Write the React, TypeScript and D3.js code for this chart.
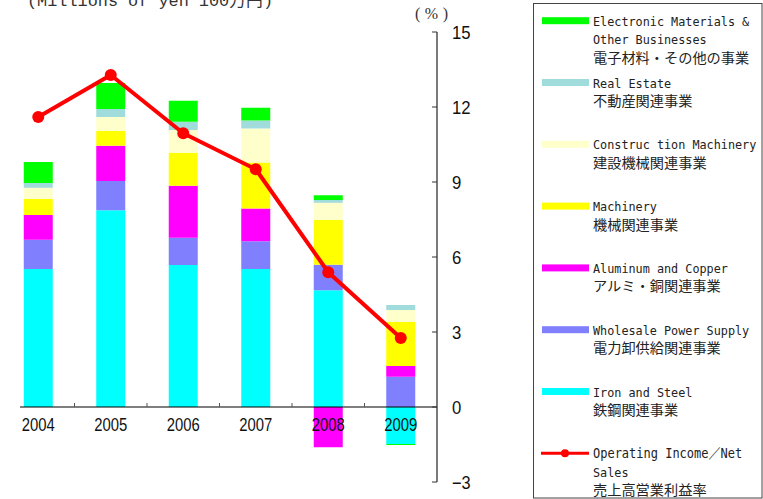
import React from 'react';
import * as d3 from 'd3';

// ---- Data ----
const years = ['2004', '2005', '2006', '2007', '2008', '2009'];
// Segment values (left-axis units, hidden axis)
const ironSteel = [5.52, 7.87, 5.68, 5.52, 4.67, -1.48];
const wholesalePower = [1.17, 1.17, 1.09, 1.11, 1.02, 1.21];
const aluminumCopper = [0.99, 1.41, 2.08, 1.31, -1.61, 0.43];
const machinery = [0.64, 0.59, 1.32, 1.84, 1.79, 1.77];
const constructionMachinery = [0.45, 0.56, 0.91, 1.36, 0.69, 0.47];
const realEstate = [0.19, 0.32, 0.33, 0.32, 0.11, 0.2];
const electronicOther = [0.84, 1.04, 0.84, 0.51, 0.19, -0.04];
// Operating income / net sales (%)
const operatingMargin = [11.6, 13.28, 10.95, 9.51, 5.39, 2.76];
const rightTicks = [15, 12, 9, 6, 3, 0, -3];

const seriesKeys = ['iron', 'wholesale', 'aluminum', 'machinery', 'construction', 'realestate', 'electronic'];
const seriesValues: Record<string, number[]> = {
  iron: ironSteel,
  wholesale: wholesalePower,
  aluminum: aluminumCopper,
  machinery: machinery,
  construction: constructionMachinery,
  realestate: realEstate,
  electronic: electronicOther,
};
const seriesColors: Record<string, string> = {
  iron: '#00FFFF',
  wholesale: '#8080FF',
  aluminum: '#FF00FF',
  machinery: '#FFFF00',
  construction: '#FFFFCC',
  realestate: '#A0DCDC',
  electronic: '#00FF00',
};

const legendItems = [
  { key: 'electronic', lines: ['Electronic Materials &', 'Other Businesses', '電子材料・その他の事業'] },
  { key: 'realestate', lines: ['Real Estate', '不動産関連事業'] },
  { key: 'construction', lines: ['Construc tion Machinery', '建設機械関連事業'] },
  { key: 'machinery', lines: ['Machinery', '機械関連事業'] },
  { key: 'aluminum', lines: ['Aluminum and Copper', 'アルミ・銅関連事業'] },
  { key: 'wholesale', lines: ['Wholesale Power Supply', '電力卸供給関連事業'] },
  { key: 'iron', lines: ['Iron and Steel', '鉄鋼関連事業'] },
  { key: 'line', lines: ['Operating Income／Net', 'Sales', '売上高営業利益率'] },
];

const W = 763;
const H = 499;

function halfWidthCount(s: string) {
  let n = 0;
  for (const ch of s) n += ch.charCodeAt(0) < 128 ? 1 : 2;
  return n;
}
function isAscii(s: string) {
  for (const ch of s) if (ch.charCodeAt(0) >= 128) return false;
  return true;
}

export default function App() {
  const x = d3.scaleBand<string>().domain(years).range([2, 437]).paddingInner(0.6).paddingOuter(0.3);
  const yR = d3.scaleLinear().domain([-3, 15]).range([482, 32]);
  const yL = d3.scaleLinear().domain([-3, 15]).range([482, 32]);

  const table = years.map((yr, i) => {
    const row: any = { year: yr };
    seriesKeys.forEach((k) => (row[k] = seriesValues[k][i]));
    return row;
  });
  const stacked = d3.stack<any>().keys(seriesKeys).offset(d3.stackOffsetDiverging)(table);

  const line = d3
    .line<number>()
    .x((_, i) => (x(years[i]) as number) + x.bandwidth() / 2)
    .y((d) => yR(d));

  const step = x.step();
  const boundaries = years.slice(1).map((yr) => (x(yr) as number) - (step - x.bandwidth()) / 2);

  const monoFont = "'DejaVu Sans Mono', 'Noto Sans CJK JP', monospace";
  const numFont = "'Liberation Sans Narrow', 'Liberation Sans', Arial, sans-serif";

  return (
    <div style={{ position: 'absolute', left: 0, top: 0 }}>
      <svg width={W} height={H} style={{ display: 'block', background: '#fff' }}>
        {/* top-left unit label (cut off at the top edge, as in the reference) */}
        <text
          x={27}
          y={6}
          fontFamily="'Liberation Mono', 'Noto Sans CJK JP', monospace"
          fontSize={16}
          fill="#333"
          textLength={246}
          lengthAdjust="spacingAndGlyphs"
        >
          (Millions of yen  100万円)
        </text>

        {/* bars */}
        {stacked.map((s) => (
          <g key={s.key} fill={seriesColors[s.key]}>
            {s.map((d, i) => {
              const y0 = yL(d[0]);
              const y1 = yL(d[1]);
              const top = Math.min(y0, y1);
              const h = Math.abs(y0 - y1);
              if (h <= 0) return null;
              return <rect key={i} x={x(years[i])} y={top} width={x.bandwidth()} height={h} />;
            })}
          </g>
        ))}

        {/* x baseline */}
        <line x1={20} x2={437} y1={yL(0)} y2={yL(0)} stroke="#000" strokeWidth={1.2} />
        {boundaries.map((bx, i) => (
          <line key={i} x1={bx} x2={bx} y1={yL(0)} y2={yL(0) - 4} stroke="#555" strokeWidth={1} />
        ))}
        {years.map((yr) => (
          <text
            key={yr}
            x={(x(yr) as number) + x.bandwidth() / 2 - 16.5}
            y={431}
            fontFamily={numFont}
            fontSize={18}
            fill="#111"
            textLength={33}
            lengthAdjust="spacingAndGlyphs"
          >
            {yr}
          </text>
        ))}

        {/* right axis */}
        <line x1={437} x2={437} y1={yR(15)} y2={yR(-3)} stroke="#333" strokeWidth={1.3} />
        {rightTicks.map((t) => (
          <g key={t}>
            <line x1={432} x2={437} y1={yR(t)} y2={yR(t)} stroke="#333" strokeWidth={1} />
            <text
              x={452}
              y={yR(t) + 6.5}
              fontFamily={numFont}
              fontSize={18}
              fill="#111"
              textLength={String(t).length * 9.3}
              lengthAdjust="spacingAndGlyphs"
            >
              {t < 0 ? '−' + Math.abs(t) : t}
            </text>
          </g>
        ))}
        <text
          x={415}
          y={19}
          fontFamily="'Liberation Serif', 'DejaVu Serif', serif"
          fontSize={16}
          fill="#333"
          textLength={33}
          lengthAdjust="spacing"
        >
          (%)
        </text>

        {/* operating margin line */}
        <path d={line(operatingMargin) || ''} fill="none" stroke="#FF0000" strokeWidth={4} strokeLinejoin="round" />
        {operatingMargin.map((v, i) => (
          <circle key={i} cx={(x(years[i]) as number) + x.bandwidth() / 2} cy={yR(v)} r={6} fill="#FF0000" />
        ))}

        {/* legend */}
        <rect x={533.5} y={3.5} width={228.5} height={494.5} fill="#fff" stroke="#444" strokeWidth={1} />
        {legendItems.map((item, i) => {
          const cy = 20.7 + i * 61.8;
          return (
            <g key={item.key}>
              {item.key === 'line' ? (
                <g>
                  <line x1={541} x2={589} y1={cy} y2={cy} stroke="#FF0000" strokeWidth={3} />
                  <circle cx={565} cy={cy} r={4} fill="#FF0000" />
                </g>
              ) : (
                <rect x={542} y={cy - 3.5} width={47} height={7} fill={seriesColors[item.key]} />
              )}
              {item.lines.map((ln, j) => (
                <text
                  key={j}
                  x={593}
                  y={cy + 5 + j * 18.5}
                  fontFamily={monoFont}
                  fontSize={isAscii(ln) ? 12.2 : 13.6}
                  fill="#222"
                  textLength={halfWidthCount(ln) * 7.1}
                  lengthAdjust="spacingAndGlyphs"
                  style={{ whiteSpace: 'pre' }}
                >
                  {ln}
                </text>
              ))}
            </g>
          );
        })}
      </svg>
    </div>
  );
}
